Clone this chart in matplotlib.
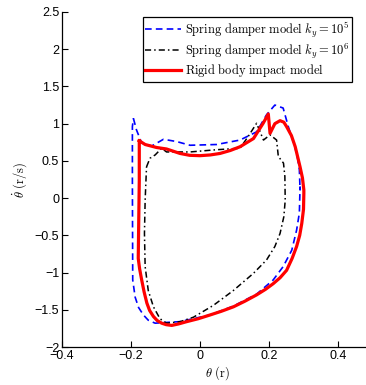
import numpy as np
import matplotlib
matplotlib.use('Agg')
import matplotlib.pyplot as plt

# ---------------------------------------------------------------
# Phase portraits (theta vs theta_dot)
# ---------------------------------------------------------------

# Rigid body impact model
rigid_theta = [-0.176, -0.159, -0.126, -0.097, -0.058, -0.030, 0.0, 0.030, 0.058, 0.088, 0.116, 0.155,
               0.183, 0.198, 0.203, 0.217, 0.232, 0.243, 0.251, 0.265, 0.276, 0.290, 0.297, 0.301,
               0.301, 0.300, 0.295, 0.289, 0.280, 0.267, 0.251, 0.232, 0.212, 0.190, 0.164, 0.130,
               0.097, 0.062, 0.029, -0.005, -0.039, -0.062,
               -0.082, -0.098, -0.111, -0.124, -0.135, -0.146, -0.154, -0.162, -0.169, -0.175, -0.179,
               -0.176, -0.176]
rigid_dot = [0.77, 0.72, 0.68, 0.66, 0.60, 0.575, 0.57, 0.58, 0.60, 0.64, 0.69, 0.80,
             1.005, 1.13, 0.87, 1.00, 1.04, 1.02, 0.96, 0.84, 0.69, 0.42, 0.27, 0.11,
             0.065, -0.15, -0.34, -0.50, -0.65, -0.81, -0.97, -1.07, -1.15, -1.225, -1.30, -1.385,
             -1.46, -1.52, -1.57, -1.62, -1.66, -1.69,
             -1.71, -1.70, -1.68, -1.645, -1.59, -1.51, -1.41, -1.26, -1.10, -0.95, -0.81,
             0.24, 0.77]

# Spring damper model, k_y = 1e5
k5_theta = [-0.193, -0.184, -0.169, -0.140, -0.106, -0.068, -0.029, 0.048, 0.116,
            0.164, 0.193, 0.217, 0.241, 0.256, 0.275, 0.283, 0.288, 0.290, 0.290,
            0.288, 0.280, 0.266, 0.241, 0.212, 0.164, 0.097, 0.029, -0.020,
            -0.060, -0.097, -0.130, -0.150, -0.164, -0.178, -0.188, -0.195, -0.196, -0.196, -0.193]
k5_dot = [1.07, 0.915, 0.74, 0.70, 0.79, 0.76, 0.71, 0.72, 0.78,
          0.89, 1.12, 1.25, 1.21, 0.96, 0.69, 0.53, 0.38, 0.11, 0.15,
          -0.20, -0.43, -0.70, -0.92, -1.10, -1.29, -1.45, -1.57, -1.62,
          -1.66, -1.67, -1.68, -1.64, -1.57, -1.47, -1.33, -1.10, 0.24, 0.96, 1.07]

# Spring damper model, k_y = 1e6
k6_theta = [-0.155, -0.145, -0.130, -0.111, -0.097, -0.029, 0.048, 0.116, 0.140,
            0.164, 0.184, 0.203, 0.222, 0.227, 0.242, 0.246, 0.247, 0.243,
            0.232, 0.217, 0.193, 0.155, 0.097, 0.039, -0.019, -0.058, -0.097,
            -0.116, -0.135, -0.150, -0.159, -0.161, -0.159, -0.155]
k6_dot = [0.42, 0.535, 0.58, 0.67, 0.62, 0.62, 0.65, 0.67, 0.83,
          1.005, 0.78, 0.85, 0.78, 0.56, 0.47, 0.29, -0.03, -0.25,
          -0.475, -0.65, -0.83, -1.01, -1.24, -1.44, -1.60, -1.66, -1.68,
          -1.62, -1.46, -1.24, -0.92, -0.475, -0.03, 0.42]

legend_labels = [r'$\mathrm{Spring\ damper\ model}\ k_y=10^5$',
                 r'$\mathrm{Spring\ damper\ model}\ k_y=10^6$',
                 r'$\mathrm{Rigid\ body\ impact\ model}$']

plt.rcParams['mathtext.fontset'] = 'cm'
plt.rcParams['font.family'] = ['Liberation Sans', 'DejaVu Sans']

W, H = 366, 385
fig = plt.figure(figsize=(W / 100, H / 100), dpi=100)
# axes extends past the right edge of the image, as in the reference
ax = fig.add_axes([62 / W, 38 / H, 310.5 / W, 335 / H])

ax.plot(k5_theta, k5_dot, color='#0000ff', ls=(0, (4, 2.5)), lw=1.2, label=legend_labels[0])
ax.plot(k6_theta, k6_dot, color='black', ls=(0, (4, 2, 1, 2)), lw=1.1, label=legend_labels[1])
ax.plot(rigid_theta, rigid_dot, color='red', lw=2.3, label=legend_labels[2])

ax.set_xlim(-0.4, 0.5)
ax.set_ylim(-2, 2.5)
ax.set_xticks([-0.4, -0.2, 0, 0.2, 0.4])
ax.set_xticklabels(['\u22120.4', '\u22120.2', '0', '0.2', '0.4'])
ax.set_yticks(np.arange(-2, 2.51, 0.5))
ax.set_yticklabels(['\u22122', '\u22121.5', '\u22121', '\u22120.5', '0', '0.5', '1', '1.5', '2', '2.5'])
ax.tick_params(direction='in', length=4, width=0.8, labelsize=9, pad=2)
ax.spines['top'].set_visible(False)
ax.spines['right'].set_visible(False)
for s in ['left', 'bottom']:
    ax.spines[s].set_linewidth(0.9)

ax.set_xlabel(r'$\theta\ (\mathrm{r})$', fontsize=9, labelpad=2)
ax.set_ylabel(r'$\dot{\theta}\ (\mathrm{r/s})$', fontsize=9, labelpad=4)

leg = ax.legend(loc='upper left', bbox_to_anchor=(142.7 / W, 1 - 17.3 / H),
                bbox_transform=fig.transFigure, borderaxespad=0, fontsize=9,
                fancybox=False, framealpha=1, edgecolor='black', borderpad=0.2,
                handlelength=2.9, handletextpad=0.3, labelspacing=0.15)
leg.get_frame().set_linewidth(0.9)

fig.savefig('out.png', dpi=100)
